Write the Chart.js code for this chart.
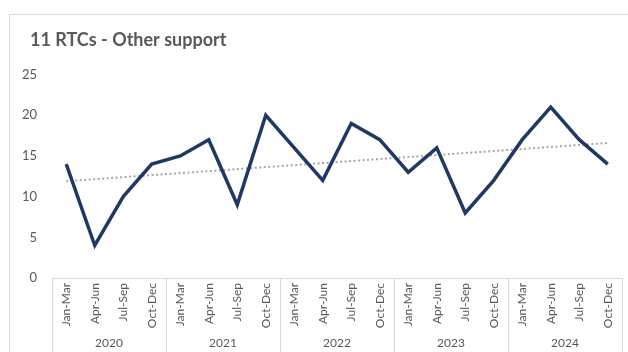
<!DOCTYPE html>
<html>
<head>
<meta charset="utf-8">
<script src="https://cdn.jsdelivr.net/npm/chart.js@4/dist/chart.umd.min.js"></script>
<style>
  html, body { margin: 0; padding: 0; background: #fff; }
  #wrap { position: relative; width: 628px; height: 352px; overflow: hidden; }
  #frame { position: absolute; left: 9px; top: 14px; width: 640px; height: 360px; border: 1px solid #d9d9d9; }
  #grafico { position: absolute; left: 0; top: 0; }
</style>
</head>
<body>
<div id="wrap">
  <div id="frame"></div>
  <canvas id="grafico" width="628" height="352"></canvas>
</div>
<script>
const anos = ['2020', '2021', '2022', '2023', '2024'];
const trimestres = ['Jan-Mar', 'Apr-Jun', 'Jul-Sep', 'Oct-Dec'];
const valores = [14, 4, 10, 14, 15, 17, 9, 20, 16, 12, 19, 17, 13, 16, 8, 12, 17, 21, 17, 14];
// linha de tendência: valor no primeiro e no último trimestre
const tendencia = [11.9, 16.6];

const labels = [];
anos.forEach(() => trimestres.forEach(t => labels.push(t)));

const dadosTendencia = labels.map((_, i) =>
    i === 0 ? tendencia[0] : (i === labels.length - 1 ? tendencia[1] : null));

const cinza = '#595959';
const fonte = 'Lato, "Open Sans", sans-serif';

// afasta o título da margem esquerda
const recuoTitulo = {
    id: 'recuoTitulo',
    afterLayout(chart) {
        if (chart.titleBlock) chart.titleBlock.left += 20;
    }
};

// linhas que separam os anos no eixo x
const separadores = {
    id: 'separadores',
    afterDraw(chart) {
        const x = chart.scales.x;
        const ctx = chart.ctx;
        const passo = (x.right - x.left) / labels.length;
        ctx.save();
        ctx.strokeStyle = '#d9d9d9';
        ctx.lineWidth = 1;
        for (let i = 0; i <= labels.length; i += trimestres.length) {
            const px = Math.round(x.left + i * passo) + 0.5;
            ctx.beginPath();
            ctx.moveTo(px, x.top);
            ctx.lineTo(px, chart.height);
            ctx.stroke();
        }
        ctx.restore();
    }
};

new Chart(document.getElementById('grafico').getContext('2d'), {
    type: 'line',
    data: {
        labels: labels,
        datasets: [
            {
                label: 'Other support',
                data: valores,
                borderColor: '#203864',
                borderWidth: 3.5,
                pointRadius: 0,
                fill: false,
                tension: 0
            },
            {
                label: 'Tendência',
                data: dadosTendencia,
                borderColor: '#a6a6a6',
                borderWidth: 2,
                borderDash: [2, 2.5],
                pointRadius: 0,
                spanGaps: true,
                fill: false
            }
        ]
    },
    options: {
        responsive: false,
        animation: false,
        layout: { padding: { left: 10, right: 6, top: 0, bottom: 0 } },
        plugins: {
            legend: { display: false },
            tooltip: { enabled: false },
            title: {
                display: true,
                text: '11 RTCs - Other support',
                align: 'start',
                color: cinza,
                font: { family: fonte, size: 18, weight: 'bold' },
                padding: { top: 29, bottom: 24 }
            }
        },
        scales: {
            y: {
                min: 0,
                max: 25,
                ticks: { stepSize: 5, color: cinza, padding: 15, font: { family: fonte, size: 13 } },
                grid: { display: false, drawTicks: false },
                border: { display: false },
                afterFit(scale) { scale.width = 42; }
            },
            x: {
                offset: true,
                ticks: {
                    minRotation: 90,
                    maxRotation: 90,
                    autoSkip: false,
                    color: cinza,
                    padding: 5,
                    font: { family: fonte, size: 12 }
                },
                grid: { display: false, drawTicks: false },
                border: { display: true, color: '#d9d9d9' },
                afterFit(scale) { scale.height = 52; }
            },
            x2: {
                type: 'category',
                position: 'bottom',
                labels: anos,
                offset: true,
                ticks: { color: cinza, padding: 6, font: { family: fonte, size: 12 } },
                grid: { display: false, drawTicks: false },
                border: { display: false },
                afterFit(scale) { scale.height = 22; }
            }
        }
    },
    plugins: [recuoTitulo, separadores]
});
</script>
</body>
</html>
